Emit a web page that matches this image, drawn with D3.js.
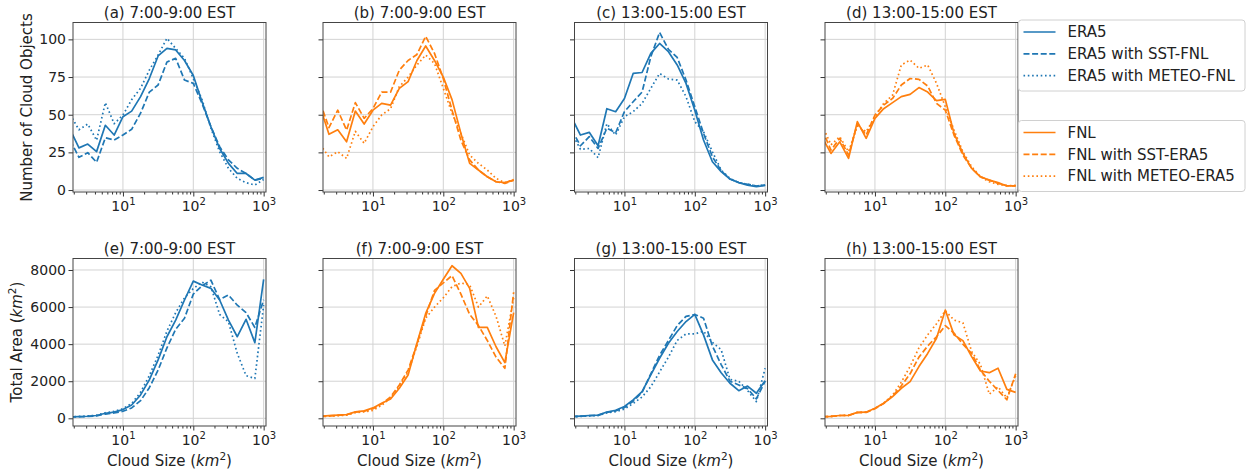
<!DOCTYPE html>
<html>
<head>
<meta charset="UTF-8">
<script src="https://cdn.jsdelivr.net/npm/d3@7/dist/d3.min.js"></script>
<style>
body{margin:0;background:#fff;}
text{font-family:"DejaVu Sans",sans-serif;fill:#222;}
</style>
</head>
<body>
<svg id="fig" width="1250" height="471"></svg>
<script>
// bin centres (km^2), 8 bins per decade
var cloudSize = [1.78, 2.37, 3.16, 4.22, 5.62, 7.50, 10, 13.3, 17.8, 23.7, 31.6, 42.2, 56.2, 75.0, 100, 133, 178, 237, 316, 422, 562, 750, 1000];

// number of cloud objects, top row
var aERA5       = [40, 28, 30.5, 25.5, 43, 36.5, 48.7, 52.4, 62, 74, 89, 94, 93, 86, 76, 58.6, 42, 27.6, 17.7, 11, 11, 6.6, 8.4];
var aERA5_SST   = [33, 21.7, 24.8, 18.4, 34.7, 33.2, 36.5, 40.3, 51, 65, 69.7, 85, 87.4, 73, 70.8, 57.5, 42, 28.8, 20, 14.4, 11, 6.6, 7.7];
var aERA5_METEO = [50, 40, 43.8, 33, 58, 44, 49.8, 60, 67.5, 79.6, 89.6, 100.7, 94, 87.4, 74, 60, 41, 25.4, 14.4, 7.7, 4.9, 3.3, 7];

var bFNL        = [55, 37, 40, 32, 52.4, 43.8, 53, 57.5, 56.4, 67.5, 72, 86, 95.6, 86, 75, 60, 37.6, 17.7, 13.3, 8.8, 5.5, 4.9, 6.6];
var bFNL_SST    = [58, 41.4, 53, 39.8, 58, 47.6, 54, 65, 65, 79.6, 86, 90, 102, 90.7, 74, 53, 33, 20, 13.3, 8.8, 5.5, 4.4, 6.6];
var bFNL_METEO  = [30, 22, 25.4, 21, 39, 31, 42, 49.8, 54, 68.6, 75, 83, 89.6, 84, 67.5, 51, 37.6, 23.2, 17.7, 13.3, 7.7, 4.9, 7];

var cERA5       = [48, 36.5, 38.3, 29.4, 54, 52, 60.8, 77.4, 78, 90.7, 97.3, 91.8, 83, 70.8, 53, 33.2, 18.8, 12.2, 7.3, 4.9, 3.3, 2.2, 3.1];
var cERA5_SST   = [40, 29.4, 35.4, 27.6, 41, 38, 52, 58.6, 65, 88.5, 104.6, 93.4, 88, 73, 55.3, 37.6, 22, 12.8, 7.3, 5, 3.8, 2.7, 3.3];
var cERA5_METEO = [38, 27, 27.6, 21.5, 44, 36.5, 48.7, 52, 57.5, 67.5, 77.4, 73.7, 73, 62, 45.4, 38.7, 25.4, 13.3, 7.7, 4.9, 3.8, 2.7, 3.5];

var dFNL        = [35, 24.3, 32, 21, 45.4, 34.3, 47.6, 54, 58, 62, 63.5, 68, 65, 59.3, 60.2, 37.6, 24.3, 14.4, 8.8, 6.6, 4.9, 2.7, 2.7];
var dFNL_SST    = [40, 26.5, 34.3, 23.2, 44, 36.5, 49.8, 56.4, 60.8, 69.7, 74, 73.5, 69, 57.5, 53, 36.5, 23.2, 14.4, 8.8, 6.6, 4.4, 2.9, 2.7];
var dFNL_METEO  = [43, 30, 35.4, 25.4, 42.5, 38.7, 48.7, 57.5, 63, 83, 86.3, 80.8, 83, 70.8, 55.3, 39.8, 25.4, 15.5, 8.8, 5.5, 3.8, 2.9, 3.1];

// total area (km^2), bottom row
var eERA5       = [80, 95, 110, 150, 270, 330, 470, 720, 1260, 2070, 3150, 4400, 5300, 6380, 7400, 7190, 7010, 6380, 5300, 4400, 5340, 4080, 7500];
var eERA5_SST   = [70, 85, 100, 130, 230, 290, 380, 560, 950, 1650, 2600, 3800, 4800, 5400, 6700, 7150, 7450, 6400, 6650, 6100, 5700, 4900, 6400];
var eERA5_METEO = [90, 100, 120, 170, 300, 370, 520, 800, 1400, 2300, 3400, 4700, 5700, 6500, 7000, 7350, 7100, 5600, 5200, 3500, 2300, 2150, 6100];

var fFNL        = [110, 140, 170, 200, 350, 400, 560, 810, 1040, 1620, 2340, 4050, 5660, 6740, 7500, 8230, 7820, 7010, 4900, 4900, 3860, 3000, 5700];
var fFNL_SST    = [100, 130, 160, 190, 330, 380, 520, 780, 1150, 1800, 2600, 4000, 5500, 6900, 7300, 7700, 6700, 5600, 5000, 4200, 3300, 2700, 6800];
var fFNL_METEO  = [90, 110, 140, 170, 300, 350, 430, 700, 1100, 1700, 2500, 3900, 5400, 6000, 6500, 7100, 7300, 7200, 6000, 6600, 5500, 3900, 6500];

var gERA5       = [100, 120, 150, 170, 340, 430, 640, 990, 1440, 2340, 3240, 4050, 4680, 5220, 5610, 4500, 3150, 2460, 1890, 1490, 1740, 1350, 2030];
var gERA5_SST   = [90, 110, 140, 160, 320, 400, 580, 920, 1400, 2400, 3400, 4200, 5000, 5500, 5600, 5400, 3900, 2900, 2000, 1800, 1600, 1050, 2000];
var gERA5_METEO = [80, 100, 130, 150, 290, 360, 500, 800, 1150, 1700, 2500, 3300, 4200, 4550, 4550, 4700, 4100, 3700, 2100, 2000, 1500, 900, 2700];

var hFNL        = [80, 100, 150, 160, 320, 330, 540, 810, 1170, 1620, 1980, 2790, 3500, 4320, 5840, 4500, 4190, 3330, 2550, 2460, 2700, 1560, 1400];
var hFNL_SST    = [80, 100, 150, 160, 310, 320, 520, 800, 1200, 1750, 2400, 3300, 3900, 4400, 5000, 4600, 4000, 3500, 2600, 2000, 1500, 1000, 2400];
var hFNL_METEO  = [80, 100, 150, 160, 320, 330, 520, 820, 1250, 1950, 2800, 3800, 4500, 5100, 5800, 5300, 5150, 3600, 2900, 1300, 1700, 1100, 2300];

var countTicks = [0, 25, 50, 75, 100];
var areaTicks = [0, 2000, 4000, 6000, 8000];
var xMajor = [10, 100, 1000];

var blue = "#1f77b4", orange = "#ff7f0e";
var dashes = [null, "6,2.6", "1.6,2.7"];

var panels = [
	{t:"(a) 7:00-9:00 EST",   row:0, col:0, c:blue,   s:[aERA5, aERA5_SST, aERA5_METEO]},
	{t:"(b) 7:00-9:00 EST",   row:0, col:1, c:orange, s:[bFNL, bFNL_SST, bFNL_METEO]},
	{t:"(c) 13:00-15:00 EST", row:0, col:2, c:blue,   s:[cERA5, cERA5_SST, cERA5_METEO]},
	{t:"(d) 13:00-15:00 EST", row:0, col:3, c:orange, s:[dFNL, dFNL_SST, dFNL_METEO]},
	{t:"(e) 7:00-9:00 EST",   row:1, col:0, c:blue,   s:[eERA5, eERA5_SST, eERA5_METEO]},
	{t:"(f) 7:00-9:00 EST",   row:1, col:1, c:orange, s:[fFNL, fFNL_SST, fFNL_METEO]},
	{t:"(g) 13:00-15:00 EST", row:1, col:2, c:blue,   s:[gERA5, gERA5_SST, gERA5_METEO]},
	{t:"(h) 13:00-15:00 EST", row:1, col:3, c:orange, s:[hFNL, hFNL_SST, hFNL_METEO]}
];

var lefts = [73, 323, 574.5, 825];
var pw = 193;
var rows = [{top:22.5, bot:192, dom:[-1.3, 111.2], ticks:countTicks},
            {top:258.5, bot:426, dom:[-415, 8620], ticks:areaTicks}];

var svg = d3.select("#fig");

// minor ticks 2..9 x 10^k
var minor = [];
[1, 10, 100].forEach(function(p){ for(var m=2;m<10;m++) minor.push(m*p); });

panels.forEach(function(p, pi){
	var r = rows[p.row];
	var x = d3.scaleLog().domain([1.95, 1080]).range([0, pw]);
	var y = d3.scaleLinear().domain(r.dom).range([r.bot - r.top, 0]);
	var h = r.bot - r.top;
	var g = svg.append("g").attr("transform", "translate(" + lefts[p.col] + "," + r.top + ")");

	g.append("clipPath").attr("id", "clip" + pi)
		.append("rect").attr("width", pw).attr("height", h);

	// grid
	g.selectAll(".gy").data(r.ticks).enter().append("line")
		.attr("x1", 0).attr("x2", pw)
		.attr("y1", function(d){return y(d);}).attr("y2", function(d){return y(d);})
		.style("stroke", "#d3d3d3").style("stroke-width", 1);
	g.selectAll(".gx").data(xMajor).enter().append("line")
		.attr("x1", function(d){return x(d);}).attr("x2", function(d){return x(d);})
		.attr("y1", 0).attr("y2", h)
		.style("stroke", "#d3d3d3").style("stroke-width", 1);

	// lines
	var line = d3.line().x(function(d, i){return x(cloudSize[i]);}).y(function(d){return y(d);});
	p.s.forEach(function(ser, k){
		g.append("path").datum(ser)
			.attr("d", line)
			.attr("clip-path", "url(#clip" + pi + ")")
			.style("fill", "none")
			.style("stroke", p.c)
			.style("stroke-width", 1.7)
			.style("stroke-linejoin", "round")
			.style("stroke-dasharray", dashes[k]);
	});

	// x axis
	var ax = g.append("g").attr("transform", "translate(0," + h + ")")
		.call(d3.axisBottom(x).tickValues(xMajor).tickSize(4.5).tickFormat(""));
	ax.selectAll(".tick").append("text")
		.attr("y", 18.5).attr("text-anchor", "middle")
		.style("font-size", "14px")
		.each(function(d){
			var t = d3.select(this);
			t.append("tspan").text("10");
			t.append("tspan").attr("dy", -6).style("font-size", "10px").text(Math.round(Math.log10(d)));
		});
	g.append("g").attr("transform", "translate(0," + h + ")")
		.call(d3.axisBottom(x).tickValues(minor.filter(function(v){return v > 1.95 && v < 1080;})).tickSize(2.5).tickFormat(""));

	// y axis
	var ay = g.append("g").call(d3.axisLeft(y).tickValues(r.ticks).tickSize(4.5).tickFormat(p.col == 0 ? d3.format("d") : ""));
	ay.selectAll("text").style("font-size", "14px").attr("x", -7);

	g.selectAll(".domain").remove();
	g.selectAll(".tick line").style("stroke", "#333");

	// frame
	g.append("rect").attr("width", pw).attr("height", h)
		.style("fill", "none").style("stroke", "#444").style("stroke-width", 1);

	// title
	g.append("text").attr("x", pw / 2).attr("y", -4.5).attr("text-anchor", "middle")
		.style("font-size", "15px").text(p.t);

	if (p.row == 1) {
		var xl = g.append("text").attr("x", pw / 2).attr("y", 466 - r.top).attr("text-anchor", "middle").style("font-size", "15px");
		xl.append("tspan").text("Cloud Size (");
		xl.append("tspan").style("font-style", "italic").text("km");
		xl.append("tspan").attr("dy", -6).style("font-size", "10.5px").text("2");
		xl.append("tspan").attr("dy", 6).text(")");
	}
});

// y labels
svg.append("text").attr("transform", "translate(32,107.5) rotate(-90)").attr("text-anchor", "middle")
	.style("font-size", "15px").text("Number of Cloud Objects");
var yl = svg.append("text").attr("transform", "translate(21.5,342) rotate(-90)").attr("text-anchor", "middle").style("font-size", "15px");
yl.append("tspan").text("Total Area (");
yl.append("tspan").style("font-style", "italic").text("km");
yl.append("tspan").attr("dy", -6).style("font-size", "10.5px").text("2");
yl.append("tspan").attr("dy", 6).text(")");

// legends
var legends = [
	{top:20, c:blue, names:["ERA5", "ERA5 with SST-FNL", "ERA5 with METEO-FNL"]},
	{top:120.5, c:orange, names:["FNL", "FNL with SST-ERA5", "FNL with METEO-ERA5"]}
];
legends.forEach(function(L){
	var g = svg.append("g").attr("transform", "translate(1018.5," + L.top + ")");
	g.append("rect").attr("width", 226.5).attr("height", 71).attr("rx", 3)
		.style("fill", "#fff").style("fill-opacity", 0.85)
		.style("stroke", "#d0d0d0").style("stroke-width", 1);
	L.names.forEach(function(n, k){
		var yy = 12 + k * 21.8;
		g.append("line").attr("x1", 5).attr("x2", 37).attr("y1", yy).attr("y2", yy)
			.style("stroke", L.c).style("stroke-width", 1.7).style("stroke-dasharray", dashes[k]);
		g.append("text").attr("x", 49).attr("y", yy).attr("dy", "0.35em")
			.style("font-size", "15px").text(n);
	});
});
</script>
</body>
</html>
